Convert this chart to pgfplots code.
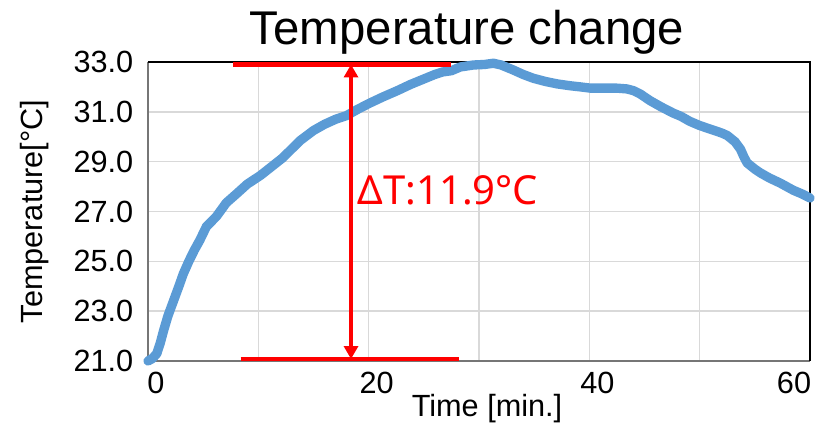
\documentclass[border=0pt]{standalone}
\usepackage{fontspec}
\setmainfont{Liberation Sans}
\newfontfamily\annfont{Noto Sans}
\usepackage{pgfplots}
\pgfplotsset{compat=1.18}
\usetikzlibrary{arrows.meta}
\newlength\px \setlength\px{0.75pt}
\definecolor{exblue}{RGB}{91,155,213}
\definecolor{gridgray}{RGB}{217,217,217}
\definecolor{axgray}{RGB}{118,118,118}
\begin{document}
\begin{tikzpicture}
\begin{axis}[
    name=ax,
    scale only axis,
    width=662\px, height=299\px,
    xmin=0, xmax=60, ymin=21, ymax=33,
    xtick={0,20,40}, minor xtick={10,30,50},
    extra x ticks={60},
    extra x tick style={grid=none, xticklabel style={xshift=-24\px}},
    ytick={21,23,...,33},
    grid=both,
    major grid style={draw=gridgray, line width=1.1pt},
    minor grid style={draw=gridgray, line width=1.1pt},
    major tick length=0pt, minor tick length=0pt,
    axis line style={draw=none},
    clip=false,
    /pgf/number format/assume math mode=true,
    ticklabel style={font=\fontsize{23pt}{27pt}\selectfont},
    yticklabel style={/pgf/number format/.cd, fixed, fixed zerofill, precision=1, /tikz/.cd, xshift=-10\px},
    xticklabel style={yshift=-6\px, xshift=8\px},
    title={Temperature change},
    every axis title/.style={font=\fontsize{35.5pt}{40pt}\selectfont, at={(axis description cs:0.5,1)}, anchor=base, yshift=17\px, xshift=-12\px},
    xlabel={Time [min.]},
    every axis x label/.style={font=\fontsize{23pt}{27pt}\selectfont, at={(axis description cs:0.5,0)}, anchor=north, yshift=-29\px, xshift=8\px},
    ylabel={Temperature[°C]},
    every axis y label/.style={font=\fontsize{23pt}{27pt}\selectfont, at={(axis description cs:0,0.5)}, rotate=90, anchor=center, yshift=84.75pt},
]
% plot area border: gray axes, black top/right
\draw[line width=1.2pt, draw=axgray] (rel axis cs:0,1) -- (rel axis cs:0,0) -- (rel axis cs:1,0);
\draw[line width=2.2pt, black] (rel axis cs:0,1) -- (rel axis cs:1,1) -- (rel axis cs:1,0);

\addplot[color=exblue, line width=7pt, line cap=round, line join=round] coordinates {
    (0,21.0) (0.4,21.1) (0.8,21.3) (1.1,21.7) (1.4,22.2) (1.8,22.8) (2.3,23.4)
    (2.8,24.0) (3.2,24.5) (3.7,25.0) (4.2,25.45) (4.7,25.85) (5.3,26.4) (6.2,26.8)
    (7.1,27.35) (8.0,27.7) (9.0,28.1) (10.2,28.45) (11.2,28.8) (12.2,29.15) (13.0,29.5)
    (13.8,29.85) (15.0,30.25) (16.0,30.5) (17.0,30.7) (18.0,30.85) (19.0,31.1) (20.1,31.35)
    (21.3,31.6) (22.6,31.85) (23.8,32.1) (24.9,32.3) (26.0,32.5) (26.7,32.6) (27.5,32.65)
    (28.3,32.8) (29.5,32.88) (30.5,32.9) (31.3,32.95) (32.0,32.88) (33.1,32.68) (34.0,32.5)
    (34.9,32.35) (36.0,32.22) (37.1,32.12) (38.2,32.05) (39.2,32.0) (40.1,31.95) (41.5,31.95)
    (42.5,31.95) (43.4,31.92) (44.0,31.85) (44.6,31.72) (45.5,31.45) (46.5,31.2) (47.6,30.95)
    (48.3,30.82) (49.1,30.62) (50.0,30.45) (51.2,30.27) (52.0,30.15) (52.5,30.05) (53.2,29.8)
    (53.7,29.5) (54.0,29.2) (54.3,28.95) (55.0,28.7) (55.5,28.55) (56.3,28.35) (57.3,28.14)
    (58.5,27.85) (59.3,27.7) (60.0,27.54)
};

% delta T annotation
\draw[red, line width=3.2pt] (axis cs:7.7,32.9) -- (axis cs:27.5,32.9);
\draw[red, line width=3.2pt] (axis cs:8.4,21.08) -- (axis cs:28.2,21.08);
\draw[red, line width=2.4pt, {Triangle[length=9.75pt,width=10.5pt]}-{Triangle[length=9.75pt,width=10.5pt]}]
    (axis cs:18.4,32.9) -- (axis cs:18.4,21.08);
\node[red, anchor=west, inner sep=0pt, font=\annfont\fontsize{30pt}{36pt}\selectfont]
    at (axis cs:19.0,27.84) {ΔT:11.9°C};
\end{axis}
\pgfresetboundingbox
\path[use as bounding box] ([shift={(-111pt,-52.5pt)}]ax.south west) rectangle ([shift={(10.5pt,46.5pt)}]ax.north east);
\end{tikzpicture}
\end{document}
